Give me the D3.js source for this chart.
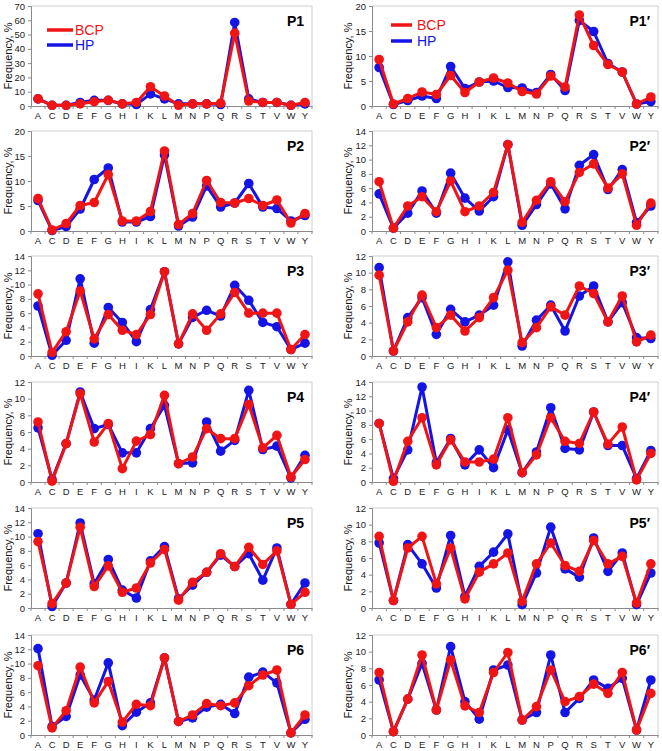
<!DOCTYPE html>
<html><head><meta charset="utf-8">
<script src="https://cdn.jsdelivr.net/npm/d3@7"></script>
<style>body{margin:0;background:#fff}svg{display:block;font-family:"Liberation Sans",Arial,sans-serif}</style>
</head><body><svg id="c" width="662" height="751"></svg>
<script>
const categories = ["A","C","D","E","F","G","H","I","K","L","M","N","P","Q","R","S","T","V","W","Y"];
const seriesNames = ["BCP","HP"];
const panelNames = ["P1","P1\u2032","P2","P2\u2032","P3","P3\u2032","P4","P4\u2032","P5","P5\u2032","P6","P6\u2032"];
const yMaxes = [70,20,20,14,14,12,12,14,14,12,14,12];
const ySteps = [10,5,5,2,2,2,2,2,2,2,2,2];

const p1BCP  = [5,0.5,0.5,1.5,3,4,1.5,2.5,13.5,7,0.5,1.5,1.5,2,51,3.5,2.5,2.5,0.5,2.5];
const p1HP   = [5,0.5,0.5,2.5,4,4,1.5,1,8.5,5,1.5,1.5,1.5,1,58.5,5,2.5,2.5,0.5,1.5];
const p1pBCP = [9.3,0.4,1.5,2.8,2.3,6.1,2.7,4.8,5.6,4.6,2.9,2.4,6.0,3.8,18.2,12.1,8.3,6.8,0.4,1.8];
const p1pHP  = [7.7,0.3,1.1,2.0,1.5,7.9,3.5,4.8,5.0,3.7,3.6,2.7,6.3,3.1,17.1,14.9,8.5,6.8,0.4,0.9];
const p2BCP  = [6.5,0.2,1.5,5.1,5.7,11.3,2.0,2.0,3.9,16.0,1.3,3.5,10.1,5.7,5.6,6.5,5.1,6.2,1.6,3.5];
const p2HP   = [6.1,0.1,0.9,4.4,10.3,12.6,1.8,1.8,2.9,15.2,1.0,2.8,9.0,4.8,5.6,9.5,4.8,4.5,2.0,3.1];
const p2pBCP = [6.9,0.4,3.5,4.8,2.7,7.0,2.7,3.5,5.4,12.1,1.2,4.3,6.9,4.1,8.2,9.4,6.0,8.0,0.8,3.9];
const p2pHP  = [5.2,0.4,2.5,5.6,2.5,8.1,4.6,2.8,4.8,12.1,0.8,3.7,6.6,3.1,9.2,10.7,5.8,8.6,1.2,3.5];
const p3BCP  = [8.7,0.5,3.4,9.1,2.4,5.8,3.6,3.0,5.8,11.8,1.7,5.9,3.6,5.9,8.9,6.0,6.0,6.0,0.9,3.0];
const p3HP   = [7.0,0.1,2.2,10.8,1.8,6.8,4.7,2.0,6.5,11.8,1.7,5.4,6.4,5.6,9.9,7.8,4.7,4.1,0.9,1.8];
const p3pBCP = [9.7,0.6,4.1,7.3,3.4,4.9,3.0,4.6,7.0,10.3,1.6,3.4,5.9,4.9,8.4,7.5,4.1,7.2,1.7,2.5];
const p3pHP  = [10.6,0.6,4.6,7.0,2.6,5.6,4.1,4.9,6.1,11.3,1.2,4.3,6.1,3.0,7.2,8.4,4.1,6.4,2.2,2.1];
const p4BCP  = [7.2,0.1,4.6,10.6,4.8,7.0,1.6,4.9,5.7,10.4,2.2,3.0,6.4,5.2,5.2,9.3,4.1,5.6,0.6,2.7];
const p4HP   = [6.5,0.3,4.6,10.8,6.4,6.9,3.5,3.5,6.4,9.2,2.2,2.3,7.2,3.7,5.0,11.0,3.9,4.3,0.5,3.2];
const p4pBCP = [8.2,0.1,5.7,9.0,2.4,5.9,2.8,2.8,3.2,9.0,1.3,3.8,9.0,5.7,5.4,9.8,5.3,7.7,0.3,4.0];
const p4pHP  = [8.2,0.5,4.5,13.3,2.7,6.1,2.4,4.5,2.0,7.3,1.3,4.2,10.4,4.7,4.5,9.8,5.1,5.1,0.5,4.4];
const p5BCP  = [9.3,0.6,3.5,11.3,3.0,5.9,2.2,2.8,6.3,8.2,1.1,3.6,5.0,7.6,5.8,8.5,6.1,8.0,0.5,2.2];
const p5HP   = [10.4,0.2,3.5,11.9,3.4,6.8,2.5,1.4,6.6,8.6,1.3,3.2,5.0,7.4,5.8,7.6,3.9,8.4,0.5,3.5];
const p5pBCP = [8.6,0.9,7.2,8.6,2.9,7.2,1.1,4.3,5.3,6.6,0.8,5.3,7.8,5.1,4.4,8.1,5.3,6.2,0.6,5.3];
const p5pHP  = [7.8,0.9,7.6,5.3,2.4,8.7,1.4,5.0,6.7,8.9,0.4,4.2,9.7,4.7,3.7,8.4,4.4,6.6,0.4,4.2];
const p6BCP  = [9.7,1.0,3.4,9.5,4.5,7.5,1.8,4.3,4.1,10.8,1.9,2.8,4.4,4.1,4.5,6.9,8.4,9.1,0.3,2.8];
const p6HP   = [12.1,1.2,2.6,8.4,4.9,10.1,1.3,3.2,4.5,10.8,1.9,2.4,3.9,4.3,3.0,8.1,8.8,7.3,0.3,2.2];
const p6pBCP = [7.5,0.4,4.3,9.6,3.0,9.0,3.5,2.7,7.5,9.9,1.8,3.4,7.8,4.0,4.6,6.1,5.0,7.5,0.6,5.0];
const p6pHP  = [6.6,0.4,4.3,8.6,3.0,10.6,4.0,1.9,7.8,8.4,1.8,2.7,9.6,2.7,4.4,6.6,5.6,6.8,0.6,6.6];

const bcpSets = [p1BCP,p1pBCP,p2BCP,p2pBCP,p3BCP,p3pBCP,p4BCP,p4pBCP,p5BCP,p5pBCP,p6BCP,p6pBCP];
const hpSets  = [p1HP,p1pHP,p2HP,p2pHP,p3HP,p3pHP,p4HP,p4pHP,p5HP,p5pHP,p6HP,p6pHP];

const RED = "#f01414", BLUE = "#1414e6";
const svg = d3.select("#c");
const rowTops = [6,131,256,382,508,635];
const plotH = 100;
const cols = [{x0:31,x1:312,title:8},{x0:372,x1:658,title:348}];

panelNames.forEach((name,i)=>{
  const r = Math.floor(i/2), c = i%2;
  const col = cols[c];
  const top = rowTops[r], bottom = top + plotH;
  const x = d3.scaleBand().domain(categories).range([col.x0,col.x1]).padding(0);
  const y = d3.scaleLinear().domain([0,yMaxes[i]]).range([bottom,top]);
  const g = svg.append("g");
  // light border top/right
  g.append("path").attr("d",`M${col.x0},${top}H${col.x1}V${bottom}`)
    .attr("fill","none").attr("stroke","#cfcfcf").attr("stroke-width",1);
  // y axis
  const ticks = d3.range(0,yMaxes[i]+0.001,ySteps[i]);
  const ya = g.append("g").attr("transform",`translate(${col.x0},0)`)
    .call(d3.axisLeft(y).tickValues(ticks).tickSize(3).tickPadding(3).tickFormat(d3.format("d")));
  ya.select(".domain").attr("stroke","#8a8a8a");
  ya.selectAll(".tick line").attr("stroke","#8a8a8a");
  ya.selectAll("text").attr("font-size",9.5).attr("fill","#222").attr("font-family","Liberation Sans, Arial, sans-serif");
  // x axis
  const xa = g.append("g").attr("transform",`translate(0,${bottom})`)
    .call(d3.axisBottom(x).tickSize(0).tickPadding(6));
  xa.select(".domain").attr("stroke","#8a8a8a");
  xa.selectAll("text").attr("font-size",9.5).attr("fill","#222").attr("font-family","Liberation Sans, Arial, sans-serif");
  // boundary ticks
  g.append("g").selectAll("line").data(categories.slice(0)).join("line")
    .attr("x1",d=>x(d)).attr("x2",d=>x(d)).attr("y1",bottom).attr("y2",bottom+3)
    .attr("stroke","#8a8a8a");
  g.append("line").attr("x1",col.x1).attr("x2",col.x1).attr("y1",bottom).attr("y2",bottom+3).attr("stroke","#8a8a8a");
  // y title
  g.append("text").attr("transform",`translate(${col.title},${(top+bottom)/2}) rotate(-90)`)
    .attr("text-anchor","middle").attr("dominant-baseline","central")
    .attr("font-size",11).attr("fill","#111").text("Frequency, %");
  // panel label
  g.append("text").attr("x",col.x1-8).attr("y",top+20).attr("text-anchor","end")
    .attr("font-size",14).attr("font-weight","bold").attr("fill","#000").text(name);
  // series: HP first, BCP on top
  const line = d3.line().x((d,j)=>x(categories[j])+x.bandwidth()/2).y(d=>y(d));
  [[hpSets[i],BLUE],[bcpSets[i],RED]].forEach(([vals,color])=>{
    g.append("path").datum(vals).attr("d",line).attr("fill","none")
      .attr("stroke",color).attr("stroke-width",3).attr("stroke-linejoin","round");
    g.append("g").selectAll("circle").data(vals).join("circle")
      .attr("cx",(d,j)=>x(categories[j])+x.bandwidth()/2).attr("cy",d=>y(d)).attr("r",4.8)
      .attr("fill",color);
  });
  // legend in first row
  if (r===0){
    const lx = c===0 ? 47 : 391, ly = c===0 ? 30 : 25, llen = c===0 ? 26 : 21, gap = c===0 ? 15 : 16;
    [[seriesNames[0],RED],[seriesNames[1],BLUE]].forEach(([nm,color],k)=>{
      const yy = ly + k*gap;
      g.append("line").attr("x1",lx).attr("x2",lx+llen).attr("y1",yy).attr("y2",yy)
        .attr("stroke",color).attr("stroke-width",3.5);
      g.append("text").attr("x",lx+llen+(c===0?2:5)).attr("y",yy).attr("dominant-baseline","central")
        .attr("font-size",14).attr("fill",color).text(nm);
    });
  }
});
</script></body></html>
